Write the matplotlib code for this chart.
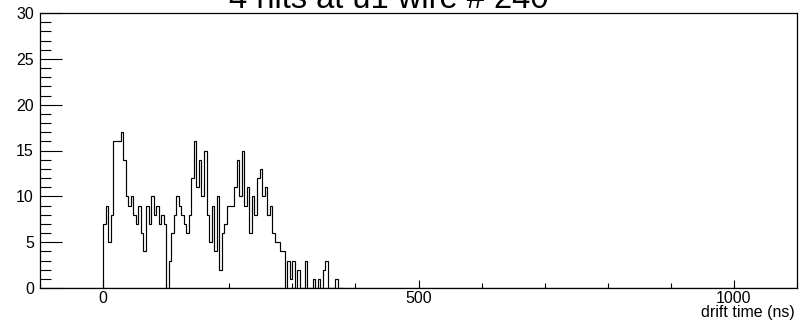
import numpy as np
import matplotlib.pyplot as plt
from matplotlib.ticker import MultipleLocator

plt.rcParams['font.family'] = ['Liberation Sans', 'DejaVu Sans']

# drift time histogram, 4 ns bins starting at 0 ns
bin_width = 4
counts = [7, 9, 5, 8, 16, 16, 16, 17, 14, 10,
          9, 10, 8, 7, 9, 6, 4, 9, 7, 10,
          8, 9, 7, 8, 7, 0, 3, 6, 8, 10,
          9, 8, 7, 6, 8, 12, 16, 11, 14, 10,
          15, 8, 5, 9, 4, 10, 2, 6, 7, 9,
          9, 9, 11, 14, 10, 15, 9, 11, 6, 10,
          8, 12, 13, 10, 11, 8, 9, 6, 5, 5,
          4, 4, 0, 3, 1, 3, 0, 2, 0, 0,
          3, 0, 0, 1, 0, 1, 0, 2, 3, 0,
          0, 0, 1, 0, 0]
edges = np.arange(len(counts) + 1) * bin_width

title = "4 hits at u1 wire # 240"
xlabel = "drift time (ns)"

fig = plt.figure(figsize=(8.09, 3.25), dpi=100, facecolor='white')
ax = fig.add_axes([40 / 809, 1 - 288 / 325, 757 / 809, 275 / 325])

# full histogram range is -100..1100, empty bins lie on the baseline
ax.stairs(counts, edges, color='black', linewidth=0.85, baseline=0)
ax.plot([-100, 1100], [0, 0], color='black', linewidth=0.85)

ax.set_xlim(-100, 1100)
ax.set_ylim(0, 30)

ax.xaxis.set_major_locator(MultipleLocator(500))
ax.xaxis.set_minor_locator(MultipleLocator(100))
ax.yaxis.set_major_locator(MultipleLocator(5))
ax.yaxis.set_minor_locator(MultipleLocator(1))

ax.tick_params(axis='y', which='major', direction='in', length=16, width=0.8,
               labelsize=11.5, pad=4.5)
ax.tick_params(axis='y', which='minor', direction='in', length=8, width=0.8)
ax.tick_params(axis='x', which='major', direction='in', length=6, width=0.8,
               labelsize=11.5, pad=2.5)
ax.tick_params(axis='x', which='minor', direction='in', length=3.5, width=0.8)

for s in ax.spines.values():
    s.set_linewidth(0.9)

fig.text(389 / 809, 1 - 8 / 325, title, ha='center', va='baseline',
         fontsize=23.5)
fig.text(795 / 809, 1 - 313 / 325, xlabel, ha='right', va='center',
         fontsize=11.5)

fig.savefig('out.png', dpi=100)
